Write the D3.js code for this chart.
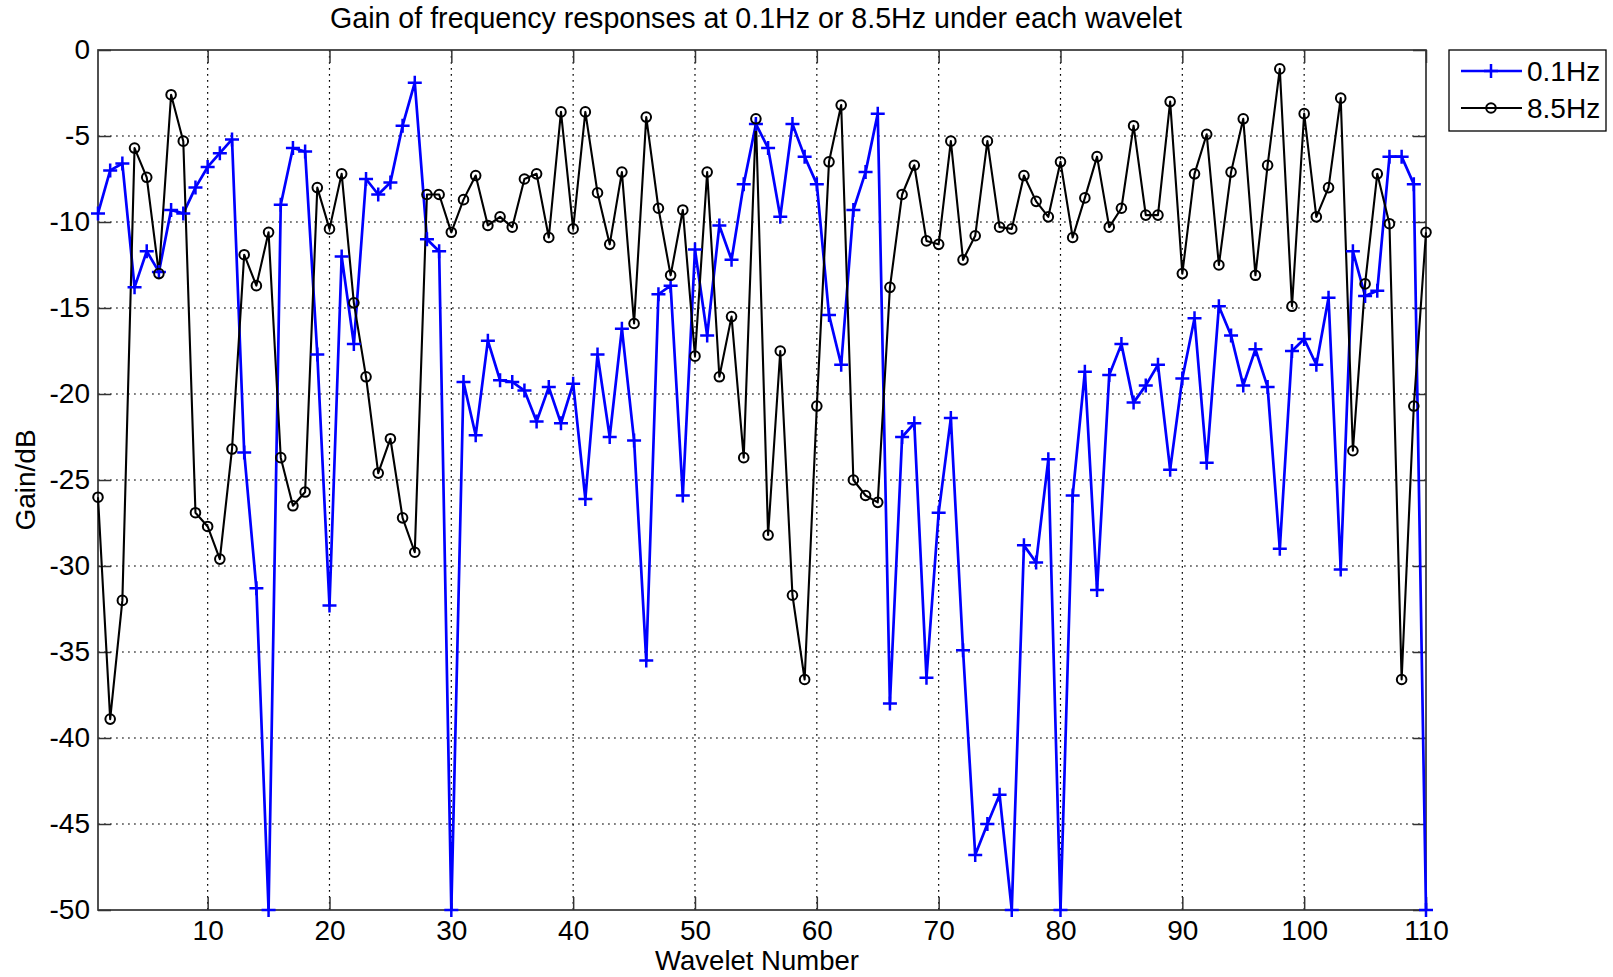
<!DOCTYPE html>
<html>
<head>
<meta charset="utf-8">
<script src="https://cdn.jsdelivr.net/npm/d3@7"></script>
<style>
  html, body { margin: 0; padding: 0; background: #fff; }
  svg { display: block; }
  text { font-family: "Liberation Sans", Arial, Helvetica, sans-serif; fill: #000; }
</style>
</head>
<body>
<svg id="chart" width="1613" height="977"></svg>
<script>
// ---- data ----
const titleText = "Gain of frequency responses at 0.1Hz or 8.5Hz under each wavelet";
const xLabel = "Wavelet Number";
const yLabel = "Gain/dB";
const seriesNames = ["0.1Hz", "8.5Hz"];
const xTicks = [10, 20, 30, 40, 50, 60, 70, 80, 90, 100, 110];
const yTicks = [0, -5, -10, -15, -20, -25, -30, -35, -40, -45, -50];

const gain01 = [
  -9.5, -7.0, -6.6, -13.8, -11.7, -12.9, -9.3, -9.5, -8.0, -6.8,
  -6.0, -5.2, -23.4, -31.3, -50, -9.0, -5.7, -5.9, -17.7, -32.3,
  -12.0, -17.1, -7.5, -8.4, -7.7, -4.4, -1.9, -11.0, -11.7, -50,
  -19.3, -22.4, -16.9, -19.2, -19.3, -19.8, -21.6, -19.6, -21.7, -19.4,
  -26.1, -17.7, -22.5, -16.2, -22.7, -35.5, -14.2, -13.7, -25.9, -11.6,
  -16.6, -10.2, -12.2, -7.8, -4.3, -5.7, -9.7, -4.3, -6.2, -7.8,
  -15.4, -18.3, -9.3, -7.1, -3.7, -38.0, -22.5, -21.7, -36.5, -26.9,
  -21.4, -34.9, -46.8, -45.0, -43.3, -50, -28.8, -29.8, -23.8, -50,
  -25.9, -18.7, -31.4, -18.9, -17.1, -20.5, -19.5, -18.3, -24.4, -19.1,
  -15.6, -24.0, -14.9, -16.6, -19.5, -17.4, -19.6, -29.0, -17.5, -16.8,
  -18.3, -14.4, -30.2, -11.7, -14.3, -14.0, -6.2, -6.2, -7.8, -50
];

const gain85 = [
  -26.0, -38.9, -32.0, -5.7, -7.4, -13.0, -2.6, -5.3, -26.9, -27.7,
  -29.6, -23.2, -11.9, -13.7, -10.6, -23.7, -26.5, -25.7, -8.0, -10.4,
  -7.2, -14.7, -19.0, -24.6, -22.6, -27.2, -29.2, -8.4, -8.4, -10.6,
  -8.7, -7.3, -10.2, -9.7, -10.3, -7.5, -7.2, -10.9, -3.6, -10.4,
  -3.6, -8.3, -11.3, -7.1, -15.9, -3.9, -9.2, -13.1, -9.3, -17.8,
  -7.1, -19.0, -15.5, -23.7, -4.0, -28.2, -17.5, -31.7, -36.6, -20.7,
  -6.5, -3.2, -25.0, -25.9, -26.3, -13.8, -8.4, -6.7, -11.1, -11.3,
  -5.3, -12.2, -10.8, -5.3, -10.3, -10.4, -7.3, -8.8, -9.7, -6.5,
  -10.9, -8.6, -6.2, -10.3, -9.2, -4.4, -9.6, -9.6, -3.0, -13.0,
  -7.2, -4.9, -12.5, -7.1, -4.0, -13.1, -6.7, -1.1, -14.9, -3.7,
  -9.7, -8.0, -2.8, -23.3, -13.6, -7.2, -10.1, -36.6, -20.7, -10.6
];

// ---- layout ----
const L = 98, R = 1426, T = 50, B = 910;
const svg = d3.select("#chart");
const x = d3.scaleLinear().domain([1, 110]).range([L, R]);
const y = d3.scaleLinear().domain([-50, 0]).range([B, T]);
const fmt = d => String(d); // plain hyphen-minus, as in the original

// grid
const grid = svg.append("g");
grid.selectAll("line.gx").data(xTicks.filter(d => d < 110)).join("line")
  .attr("x1", d => x(d)).attr("x2", d => x(d)).attr("y1", T).attr("y2", B)
  .attr("stroke", "#000").attr("stroke-width", 1.2).attr("stroke-dasharray", "1.8,4.2");
grid.selectAll("line.gy").data(yTicks.filter(d => d > -50 && d < 0)).join("line")
  .attr("x1", L).attr("x2", R).attr("y1", d => y(d)).attr("y2", d => y(d))
  .attr("stroke", "#000").attr("stroke-width", 1.2).attr("stroke-dasharray", "1.8,4.2");

// axes (inward ticks, MATLAB style)
const tickLen = 13;
const axB = svg.append("g").attr("transform", `translate(0,${B})`)
  .call(d3.axisBottom(x).tickValues(xTicks).tickFormat(fmt).tickSizeInner(-tickLen).tickSizeOuter(0).tickPadding(20));
const axT = svg.append("g").attr("transform", `translate(0,${T})`)
  .call(d3.axisTop(x).tickValues(xTicks).tickSizeInner(-tickLen).tickSizeOuter(0).tickFormat(""));
const axL = svg.append("g").attr("transform", `translate(${L},0)`)
  .call(d3.axisLeft(y).tickValues(yTicks).tickFormat(fmt).tickSizeInner(-tickLen).tickSizeOuter(0).tickPadding(8));
const axR = svg.append("g").attr("transform", `translate(${R},0)`)
  .call(d3.axisRight(y).tickValues(yTicks).tickSizeInner(-tickLen).tickSizeOuter(0).tickFormat(""));
[axB, axT, axL, axR].forEach(a => {
  a.select(".domain").remove();
  a.selectAll(".tick line").attr("stroke", "#333").attr("stroke-width", 1.5);
  a.selectAll(".tick text").attr("font-size", 28).attr("font-family", "Liberation Sans, Arial, sans-serif").attr("fill", "#000");
});
axB.selectAll(".tick text").attr("dy", "0.35em");
// box
svg.append("rect").attr("x", L).attr("y", T).attr("width", R - L).attr("height", B - T)
  .attr("fill", "none").attr("stroke", "#333").attr("stroke-width", 1.7);

// lines
const line = d3.line().x((d, i) => x(i + 1)).y(d => y(d));
const plot = svg.append("g");
plot.append("path").datum(gain01).attr("d", line)
  .attr("fill", "none").attr("stroke", "#0000ff").attr("stroke-width", 2.7).attr("stroke-linejoin", "round");
plot.append("path").datum(gain85).attr("d", line)
  .attr("fill", "none").attr("stroke", "#000").attr("stroke-width", 2.1).attr("stroke-linejoin", "round");

// markers
const plusPath = s => `M${-s},0H${s}M0,${-s}V${s}`;
plot.selectAll("path.plus").data(gain01).join("path")
  .attr("class", "plus")
  .attr("transform", (d, i) => `translate(${x(i + 1)},${y(d)})`)
  .attr("d", plusPath(7)).attr("stroke", "#0000ff").attr("stroke-width", 2.5).attr("fill", "none");
plot.selectAll("circle.o").data(gain85).join("circle")
  .attr("class", "o")
  .attr("cx", (d, i) => x(i + 1)).attr("cy", d => y(d)).attr("r", 4.8)
  .attr("stroke", "#000").attr("stroke-width", 2).attr("fill", "none");

// title & labels
svg.append("text").attr("x", 756).attr("y", 28).attr("text-anchor", "middle")
  .attr("font-size", 28.6).text(titleText);
svg.append("text").attr("x", 757).attr("y", 970).attr("text-anchor", "middle")
  .attr("font-size", 27.5).text(xLabel);
svg.append("text").attr("transform", "translate(35,480) rotate(-90)").attr("text-anchor", "middle")
  .attr("font-size", 28).text(yLabel);

// legend
const lg = svg.append("g");
lg.append("rect").attr("x", 1449).attr("y", 50).attr("width", 157).attr("height", 81)
  .attr("fill", "#fff").attr("stroke", "#000").attr("stroke-width", 1.3);
const rows = [
  { name: seriesNames[0], color: "#0000ff", y: 71, marker: "plus", w: 2.7 },
  { name: seriesNames[1], color: "#000", y: 108, marker: "o", w: 2.1 }
];
rows.forEach(r => {
  lg.append("line").attr("x1", 1461).attr("x2", 1522).attr("y1", r.y).attr("y2", r.y)
    .attr("stroke", r.color).attr("stroke-width", r.w);
  if (r.marker === "plus") {
    lg.append("path").attr("transform", `translate(1491,${r.y})`).attr("d", plusPath(7))
      .attr("stroke", r.color).attr("stroke-width", 2.5).attr("fill", "none");
  } else {
    lg.append("circle").attr("cx", 1491).attr("cy", r.y).attr("r", 4.8)
      .attr("stroke", r.color).attr("stroke-width", 2).attr("fill", "none");
  }
  lg.append("text").attr("x", 1527).attr("y", r.y).attr("dy", "0.35em")
    .attr("font-size", 28).text(r.name);
});
</script>
</body>
</html>
